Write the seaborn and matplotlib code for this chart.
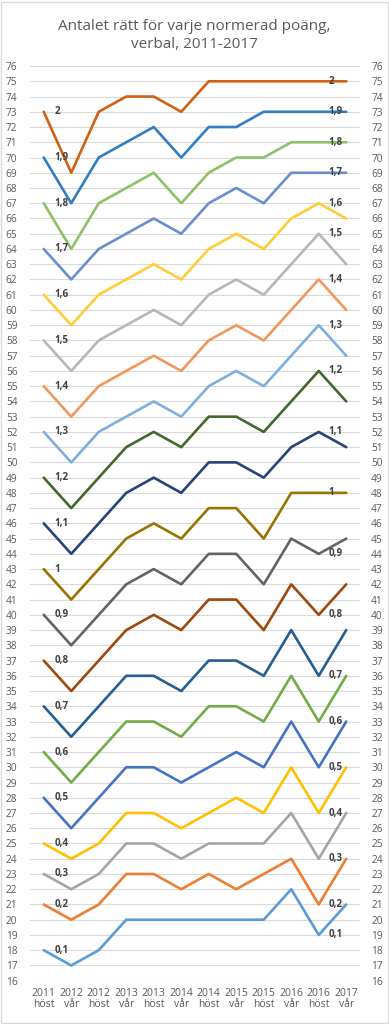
import numpy as np
import pandas as pd
import matplotlib
matplotlib.use("Agg")
import matplotlib.pyplot as plt
import seaborn as sns
from matplotlib.patches import Rectangle

# kategorier (x-axeln)
terminer = ["2011\nhöst", "2012\nvår", "2012\nhöst", "2013\nvår", "2013\nhöst", "2014\nvår",
            "2014\nhöst", "2015\nvår", "2015\nhöst", "2016\nvår", "2016\nhöst", "2017\nvår"]

# antal rätt per normerad poäng
p01 = [18, 17, 18, 20, 20, 20, 20, 20, 20, 22, 19, 21]
p02 = [21, 20, 21, 23, 23, 22, 23, 22, 23, 24, 21, 24]
p03 = [23, 22, 23, 25, 25, 24, 25, 25, 25, 27, 24, 27]
p04 = [25, 24, 25, 27, 27, 26, 27, 28, 27, 30, 27, 30]
p05 = [28, 26, 28, 30, 30, 29, 30, 31, 30, 33, 30, 33]
p06 = [31, 29, 31, 33, 33, 32, 34, 34, 33, 36, 33, 36]
p07 = [34, 32, 34, 36, 36, 35, 37, 37, 36, 39, 36, 39]
p08 = [37, 35, 37, 39, 40, 39, 41, 41, 39, 42, 40, 42]
p09 = [40, 38, 40, 42, 43, 42, 44, 44, 42, 45, 44, 45]
p10 = [43, 41, 43, 45, 46, 45, 47, 47, 45, 48, 48, 48]
p11 = [46, 44, 46, 48, 49, 48, 50, 50, 49, 51, 52, 51]
p12 = [49, 47, 49, 51, 52, 51, 53, 53, 52, 54, 56, 54]
p13 = [52, 50, 52, 53, 54, 53, 55, 56, 55, 57, 59, 57]
p14 = [55, 53, 55, 56, 57, 56, 58, 59, 58, 60, 62, 60]
p15 = [58, 56, 58, 59, 60, 59, 61, 62, 61, 63, 65, 63]
p16 = [61, 59, 61, 62, 63, 62, 64, 65, 64, 66, 67, 66]
p17 = [64, 62, 64, 65, 66, 65, 67, 68, 67, 69, 69, 69]
p18 = [67, 64, 67, 68, 69, 67, 69, 70, 70, 71, 71, 71]
p19 = [70, 67, 70, 71, 72, 70, 72, 72, 73, 73, 73, 73]
p20 = [73, 69, 73, 74, 74, 73, 75, 75, 75, 75, 75, 75]

etiketter = ["0,1", "0,2", "0,3", "0,4", "0,5", "0,6", "0,7", "0,8", "0,9", "1",
             "1,1", "1,2", "1,3", "1,4", "1,5", "1,6", "1,7", "1,8", "1,9", "2"]
serier = [p01, p02, p03, p04, p05, p06, p07, p08, p09, p10,
          p11, p12, p13, p14, p15, p16, p17, p18, p19, p20]

# Excel-liknande färger
farger = ["#5B9BD5", "#ED7D31", "#A5A5A5", "#FFC000", "#4472C4", "#70AD47",
          "#255E91", "#9E480E", "#636363", "#997300", "#264478", "#43682B",
          "#7CAFDD", "#F1975A", "#B7B7B7", "#FFCD33", "#698ED0", "#8CC168",
          "#327DC2", "#D26012"]

rows = []
for lab, vals in zip(etiketter, serier):
    for i, v in enumerate(vals):
        rows.append({"termin": i, "poang": lab, "antal": v})
df = pd.DataFrame(rows)

sns.set_style("white")
plt.rcParams['font.family'] = ['Open Sans', 'DejaVu Sans']

fig = plt.figure(figsize=(3.89, 10.24), dpi=100)
ax = fig.add_axes([0.0771, 0.0423, 0.8483, 0.8932])

sns.lineplot(data=df, x="termin", y="antal", hue="poang", palette=farger,
             hue_order=etiketter, linewidth=1.9, legend=False, ax=ax)

grid_c = "#D9D9D9"
tick_c = "#595959"
ax.set_xlim(-0.5, len(terminer) - 0.5)
ax.set_ylim(16, 76)
ax.set_yticks(range(16, 77))
ax.set_xticks(range(len(terminer)))
ax.set_xticklabels(terminer, fontsize=7.5, color=tick_c, linespacing=1.05)
ax.tick_params(axis="y", length=0, pad=9, labelsize=7.3, labelcolor=tick_c)
ax.tick_params(axis="x", length=0, pad=5)
ax.yaxis.grid(True, color=grid_c, linewidth=0.8)
ax.set_axisbelow(True)
for s in ax.spines.values():
    s.set_visible(False)
ax.set_xlabel("")
ax.set_ylabel("")

ax2 = ax.twinx()
ax2.set_ylim(16, 76)
ax2.set_yticks(range(16, 77))
ax2.tick_params(axis="y", length=0, pad=8, labelsize=7.3, labelcolor=tick_c)
for s in ax2.spines.values():
    s.set_visible(False)

# dataetiketter: första punkten och näst sista punkten
for lab, vals in zip(etiketter, serier):
    ax.annotate(lab, (0, vals[0]), xytext=(8, 0), textcoords="offset points",
                ha="left", va="center", fontsize=7, fontweight="bold", color="#404040")
    ax.annotate(lab, (10, vals[10]), xytext=(7, 0), textcoords="offset points",
                ha="left", va="center", fontsize=7, fontweight="bold", color="#404040")

fig.text(0.5, 0.965, "Antalet rätt för varje normerad poäng,\nverbal, 2011-2017",
         ha="center", va="center", fontsize=11, color=tick_c, linespacing=1.3)

fig.patches.append(Rectangle((0.002, 0.001), 0.995, 0.997, transform=fig.transFigure,
                             fill=False, edgecolor=grid_c, linewidth=1))

fig.savefig("out.png", dpi=100)
